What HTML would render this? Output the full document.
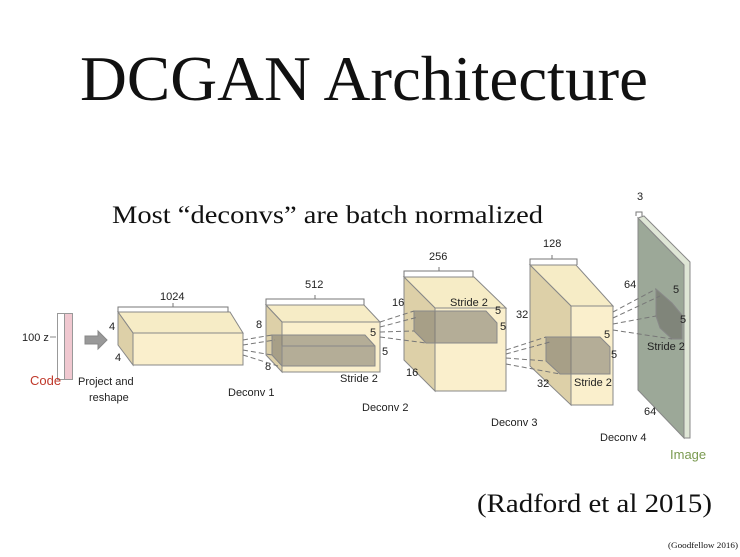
<!DOCTYPE html>
<html><head><meta charset="utf-8"><style>
html,body{margin:0;padding:0;background:#fff;}
svg{display:block;}
.s{font-family:"Liberation Serif",serif;fill:#111;}
.a{font-family:"Liberation Sans",sans-serif;fill:#222;font-size:11px;}
</style></head><body>
<svg width="740" height="557" viewBox="0 0 740 557" xmlns="http://www.w3.org/2000/svg">
<rect width="740" height="557" fill="#fff"/>
<text class="s" x="80" y="100" font-size="63" textLength="568" lengthAdjust="spacingAndGlyphs">DCGAN Architecture</text>
<text class="s" x="112" y="223" font-size="25" textLength="431" lengthAdjust="spacingAndGlyphs">Most “deconvs” are batch normalized</text>
<text class="s" x="477" y="512" font-size="26" textLength="235" lengthAdjust="spacingAndGlyphs">(Radford et al 2015)</text>
<text class="s" x="668" y="548" font-size="8" textLength="70" lengthAdjust="spacingAndGlyphs">(Goodfellow 2016)</text>

<g stroke="#888" stroke-width="1" fill="none">
<!-- code -->
<rect x="57.5" y="313.5" width="7" height="66" stroke="#999"/>
</g>
<rect x="64.5" y="313.5" width="8" height="66" fill="#f0c8d0" stroke="#999"/>
<line x1="50" y1="337" x2="56" y2="337" stroke="#888"/>
<text class="a" x="22" y="341" font-size="11">100 z</text>
<polygon points="85,336 98,336 98,331 107,340 98,349 98,344 85,344" fill="#999" stroke="#888"/>
<text x="30" y="385" font-family="Liberation Sans,sans-serif" font-size="13" fill="#c0392b">Code</text>
<text class="a" x="78" y="385" font-size="13">Project and</text>
<text class="a" x="89" y="401" font-size="13">reshape</text>

<!-- block 1 -->
<g stroke="#888" stroke-width="1">
<polygon points="118,312 230,312 243,333 133,333" fill="#f6ecc6"/>
<polygon points="118,312 133,333 133,365 118,345" fill="#ddd0a8"/>
<rect x="133" y="333" width="110" height="32" fill="#faefcc"/>
</g>
<path d="M118,312 v-5 h110 v5 M173,307 v-4" stroke="#777" fill="none"/>
<text class="a" x="160" y="300" font-size="10">1024</text>
<text class="a" x="109" y="330">4</text>
<text class="a" x="115" y="361">4</text>

<!-- block 2 -->
<g stroke="#888" stroke-width="1">
<polygon points="266,305 364,305 380,322 282,322" fill="#f6ecc6"/>
<polygon points="266,305 282,322 282,372 266,355" fill="#ddd0a8"/>
<rect x="282" y="322" width="98" height="50" fill="#faefcc"/>
<polygon points="272,335 365,335 375,346 375,366 282,366 272,355" fill="#7a776c" fill-opacity="0.55"/>
<rect x="282" y="346" width="93" height="20" fill="none"/>
</g>
<path d="M266,305 v-6 h98 v6 M315,299 v-4" stroke="#777" fill="none"/>
<text class="a" x="305" y="288" font-size="10">512</text>
<text class="a" x="256" y="328">8</text>
<text class="a" x="265" y="370">8</text>
<text class="a" x="370" y="336">5</text>
<text class="a" x="382" y="355">5</text>
<text class="a" x="340" y="382" font-size="10">Stride 2</text>
<text class="a" x="228" y="396" font-size="13">Deconv 1</text>
<g stroke="#777" stroke-dasharray="5,3" fill="none">
<path d="M243,340 L272,335 M243,345 L275,340 M243,350 L272,355 M243,355 L278,366"/>
</g>

<!-- block 3 -->
<g stroke="#888" stroke-width="1">
<polygon points="404,277 474,277 506,308 435,308" fill="#f6ecc6"/>
<polygon points="404,277 435,308 435,391 404,360" fill="#ddd0a8"/>
<rect x="435" y="308" width="71" height="83" fill="#faefcc"/>
<polygon points="414,311 486,311 497,323 497,343 426,343 414,331" fill="#7a776c" fill-opacity="0.55"/>
</g>
<path d="M404,277 v-6 h69 v6 M439,271 v-4" stroke="#777" fill="none"/>
<text class="a" x="429" y="260" font-size="10">256</text>
<text class="a" x="392" y="306">16</text>
<text class="a" x="406" y="376">16</text>
<text class="a" x="450" y="306" font-size="10">Stride 2</text>
<text class="a" x="495" y="314">5</text>
<text class="a" x="500" y="330">5</text>
<text class="a" x="362" y="411" font-size="13">Deconv 2</text>
<g stroke="#777" stroke-dasharray="5,3" fill="none">
<path d="M380,322 L414,311 M380,327 L418,317 M380,332 L414,331 M380,337 L426,343"/>
</g>

<!-- block 4 -->
<g stroke="#888" stroke-width="1">
<polygon points="530,265 576,265 613,306 571,306" fill="#f6ecc6"/>
<polygon points="530,265 571,306 571,405 530,366" fill="#ddd0a8"/>
<rect x="571" y="306" width="42" height="99" fill="#faefcc"/>
<polygon points="546,337 600,337 610,347 610,374 560,374 546,361" fill="#7a776c" fill-opacity="0.55"/>
</g>
<path d="M530,265 v-6 h47 v6 M552,259 v-4" stroke="#777" fill="none"/>
<text class="a" x="543" y="247" font-size="10">128</text>
<text class="a" x="516" y="318">32</text>
<text class="a" x="537" y="387">32</text>
<text class="a" x="604" y="338">5</text>
<text class="a" x="611" y="358">5</text>
<text class="a" x="574" y="386" font-size="10">Stride 2</text>
<text class="a" x="491" y="426" font-size="13">Deconv 3</text>
<g stroke="#777" stroke-dasharray="5,3" fill="none">
<path d="M506,350 L546,337 M506,354 L550,342 M506,358 L546,361 M506,364 L560,374"/>
</g>

<!-- image plate -->
<g stroke="#888" stroke-width="1">
<polygon points="638,218 684,265 684,438 638,390" fill="#9ca898"/>
<polygon points="638,218 644,216 690,262 690,438 684,438 684,265" fill="#dfe6d6"/>
<polygon points="656,289 672,303 682,315 682,339 672,339 660,328 656,316" fill="#6e6e66" fill-opacity="0.6"/>
</g>
<path d="M636,216 v-4 h6 v4" stroke="#777" fill="none"/>
<text class="a" x="637" y="200" font-size="9">3</text>
<text class="a" x="624" y="288">64</text>
<text class="a" x="673" y="293">5</text>
<text class="a" x="680" y="323">5</text>
<text class="a" x="647" y="350" font-size="10">Stride 2</text>
<text class="a" x="644" y="415" font-size="10">64</text>
<text class="a" x="600" y="441" font-size="13">Deconv 4</text>
<text x="670" y="459" font-family="Liberation Sans,sans-serif" font-size="13" fill="#7a9a50">Image</text>
<g stroke="#777" stroke-dasharray="5,3" fill="none">
<path d="M613,312 L656,289 M613,318 L660,296 M613,324 L656,316 M613,330 L672,339"/>
</g>
</svg>
</body></html>
